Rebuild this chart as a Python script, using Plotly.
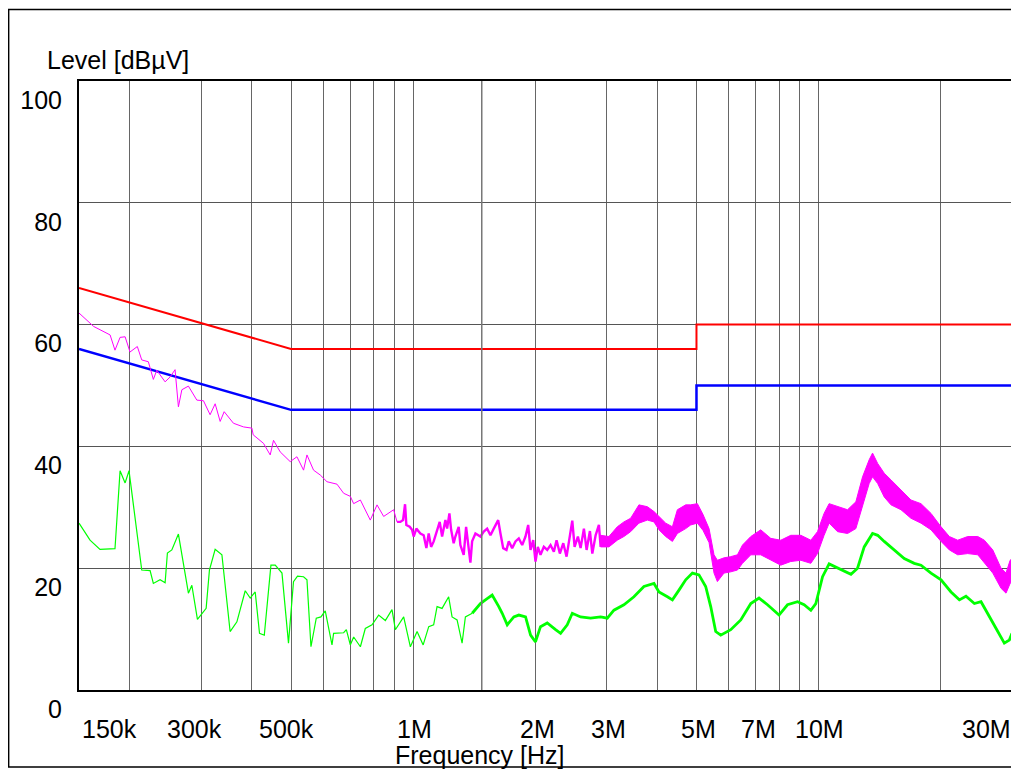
import numpy as np
import plotly.graph_objects as go

# ---------------- data (frequencies in MHz, levels in dBuV) ----------------
limit_f = [0.15, 0.5, 5.0, 5.0, 30.0]
limit_qp = [66, 56, 56, 60, 60]
limit_av = [56, 46, 46, 50, 50]

# peak trace, low-frequency part (thin line)
peak_lf_f = [0.150, 0.163, 0.179, 0.184, 0.1894, 0.1949, 0.2004, 0.2089, 0.2142, 0.2224,
             0.2288, 0.2333, 0.2446, 0.2516, 0.2588, 0.2638, 0.2690, 0.2792, 0.2929, 0.3041,
             0.3158, 0.3250, 0.3344, 0.3421, 0.3606, 0.3818, 0.4004, 0.4034, 0.4277, 0.4443,
             0.4527, 0.4702, 0.4977, 0.5171, 0.5369, 0.5474, 0.5683, 0.5903, 0.6133, 0.6491,
             0.6742, 0.7002, 0.7136, 0.7414, 0.7843, 0.8149, 0.8462, 0.8956, 0.9130]
peak_lf = [61.9, 59.7, 58.3, 55.8, 57.9, 58.0, 55.5, 56.4, 54.2, 53.9,
           51.0, 52.5, 50.6, 51.4, 52.6, 46.5, 49.3, 49.9, 47.6, 47.5,
           45.2, 47.0, 44.1, 45.7, 43.8, 43.2, 43.0, 41.9, 40.5, 38.6,
           41.0, 39.1, 37.5, 38.3, 36.1, 38.6, 36.1, 35.3, 34.2, 33.8,
           32.3, 31.8, 30.6, 31.2, 27.9, 30.4, 28.5, 29.6, 27.6]

# peak trace, 0.9 - 2.9 MHz (spiky line)
peak_mid_f = [0.9130, 0.9303, 0.9447, 0.9555, 0.9626, 0.9809, 0.9943, 1.0034, 1.0189, 1.0424,
              1.0621, 1.0785, 1.0928, 1.1078, 1.1243, 1.1417, 1.1633, 1.1793, 1.2016, 1.2133,
              1.2293, 1.2412, 1.2594, 1.2716, 1.2957, 1.3083, 1.3331, 1.3514, 1.3669, 1.3849,
              1.3984, 1.4249, 1.4660, 1.4938, 1.5230, 1.5519, 1.5813, 1.6214, 1.6427, 1.6681,
              1.6997, 1.7221, 1.7556, 1.7889, 1.8228, 1.8583, 1.8935, 1.9228, 1.9482, 1.9784,
              2.0044, 2.0308, 2.0622, 2.1013, 2.1423, 2.1830, 2.2243, 2.2588, 2.3016, 2.3465,
              2.3910, 2.4225, 2.4698, 2.5023, 2.5497, 2.5892, 2.6383, 2.6791, 2.7299, 2.7674,
              2.8198, 2.8731, 2.9011]
peak_mid = [27.6, 27.6, 27.9, 30.5, 27.1, 26.8, 26.3, 25.2, 26.5, 25.7,
            25.4, 23.3, 25.7, 23.5, 24.4, 26.0, 27.6, 25.2, 27.9, 26.5,
            29.0, 26.3, 24.1, 25.2, 26.8, 23.8, 22.2, 26.8, 24.1, 20.9,
            24.4, 25.7, 25.2, 26.0, 26.5, 25.4, 26.5, 27.9, 25.7, 23.3,
            23.0, 24.4, 23.3, 24.4, 24.9, 23.8, 25.2, 27.1, 23.0, 24.6,
            21.1, 23.5, 22.2, 23.5, 23.0, 23.8, 22.7, 24.6, 22.4, 24.1,
            21.9, 24.4, 27.8, 23.5, 25.2, 23.3, 26.5, 23.0, 26.1, 22.4,
            25.4, 27.1, 23.5]

# peak trace, 2.9 - 30 MHz (dense noise band: upper / lower envelope)
peak_band_f = [2.901, 3.041, 3.189, 3.311, 3.440, 3.606, 3.783, 3.928, 4.041, 4.198,
               4.361, 4.486, 4.703, 4.838, 5.026, 5.190, 5.370, 5.524, 5.630, 5.847,
               6.074, 6.310, 6.493, 6.807, 7.202, 7.624, 8.070, 8.542, 9.045, 9.572,
               9.940, 10.32, 10.62, 11.14, 11.79, 12.36, 12.84, 13.33, 13.59, 13.99,
               14.52, 15.09, 15.97, 16.90, 17.89, 18.94, 20.05, 21.02, 22.04, 23.33,
               24.70, 25.64, 26.90, 28.19, 29.00, 29.68, 30.0]
peak_hi = [25.4, 25.2, 26.8, 27.6, 28.2, 30.4, 30.1, 29.3, 28.5, 27.4,
           26.8, 29.6, 30.4, 30.4, 30.6, 28.8, 26.5, 22.2, 21.3, 21.7,
           21.9, 22.2, 23.8, 25.2, 26.3, 24.9, 24.6, 25.4, 25.4, 24.6,
           26.0, 29.0, 30.6, 30.1, 29.6, 30.9, 35.0, 37.8, 38.9, 37.2,
           35.6, 34.5, 32.8, 31.2, 30.6, 29.0, 26.8, 25.2, 24.6, 25.2,
           25.2, 24.6, 23.0, 20.0, 19.2, 21.3, 21.6]
peak_lo = [23.5, 23.5, 24.6, 25.2, 26.0, 27.4, 27.9, 27.6, 26.3, 25.2,
           24.4, 25.7, 26.5, 27.1, 27.4, 26.2, 24.2, 19.2, 17.8, 19.2,
           19.4, 19.7, 20.8, 22.2, 22.2, 21.3, 20.5, 21.1, 21.3, 20.8,
           22.4, 25.4, 27.4, 26.0, 25.7, 26.5, 30.1, 33.9, 35.0, 33.9,
           31.7, 30.4, 29.6, 28.2, 27.4, 26.3, 24.4, 23.0, 22.2, 22.4,
           22.2, 20.8, 19.2, 16.7, 15.9, 17.5, 17.8]

# average trace, low-frequency part
avg_lf_f = [0.150, 0.1597, 0.169, 0.184, 0.1894, 0.1949, 0.1993, 0.2142, 0.2246, 0.2288,
            0.2377, 0.2446, 0.2478, 0.2541, 0.2638, 0.2792, 0.2847, 0.2939, 0.3088, 0.3146,
            0.3250, 0.3377, 0.3538, 0.3677, 0.3855, 0.3966, 0.4080, 0.4181, 0.4296, 0.4461,
            0.4571, 0.4750, 0.4929, 0.5071, 0.5188, 0.5369, 0.5474, 0.5600, 0.5771, 0.5926,
            0.6073, 0.6249, 0.6310, 0.6368, 0.6742, 0.6846, 0.7002, 0.7136, 0.7414, 0.7624,
            0.7921, 0.8224, 0.8543, 0.8872, 0.9043, 0.9480, 0.9847, 1.023, 1.059, 1.093,
            1.124, 1.146, 1.179, 1.224, 1.248, 1.284, 1.321, 1.346, 1.399]
avg_lf = [27.4, 24.6, 23.1, 23.2, 36.0, 34.0, 36.0, 19.7, 19.6, 17.5,
          18.1, 17.6, 22.5, 23.0, 25.6, 15.9, 17.2, 11.6, 13.4, 19.7,
          23.1, 22.2, 9.6, 11.2, 16.3, 15.1, 16.1, 9.3, 9.0, 20.5,
          20.5, 19.2, 7.7, 17.8, 18.7, 18.6, 18.1, 7.1, 11.8, 12.0,
          13.0, 9.0, 7.4, 9.3, 9.4, 9.9, 7.4, 8.7, 7.1, 10.1,
          10.7, 12.3, 11.4, 13.2, 9.9, 12.0, 7.1, 9.6, 7.4, 10.4,
          10.7, 13.7, 13.4, 15.3, 12.0, 11.5, 7.7, 12.0, 12.6]

# average trace, high-frequency part (dense, drawn thicker)
avg_hf_f = [1.399, 1.466, 1.523, 1.567, 1.627, 1.659, 1.707, 1.772, 1.823, 1.894,
            1.949, 2.004, 2.062, 2.142, 2.246, 2.311, 2.400, 2.470, 2.589, 2.740,
            2.901, 3.013, 3.129, 3.311, 3.505, 3.710, 3.928, 4.041, 4.239, 4.361,
            4.527, 4.703, 4.886, 5.071, 5.268, 5.421, 5.577, 5.738, 6.074, 6.430,
            6.807, 7.132, 7.484, 7.991, 8.384, 8.875, 9.213, 9.572, 9.847, 10.23,
            10.62, 11.14, 12.02, 12.48, 12.96, 13.59, 13.99, 14.52, 15.37, 16.27,
            17.22, 17.89, 18.94, 20.05, 21.22, 22.25, 23.10, 24.23, 25.16, 26.15,
            27.41, 28.72, 29.55, 30.0]
avg_hf = [12.6, 14.2, 15.0, 15.6, 13.7, 12.6, 10.7, 12.0, 12.3, 12.0,
          9.0, 7.9, 10.4, 11.0, 9.9, 9.3, 10.7, 12.6, 12.0, 11.8,
          12.0, 11.8, 13.1, 14.0, 15.3, 17.0, 17.5, 16.1, 15.3, 14.8,
          16.4, 18.1, 19.2, 18.9, 17.0, 13.7, 9.6, 9.0, 9.9, 11.5,
          14.2, 15.1, 14.0, 12.3, 14.0, 14.5, 14.0, 13.1, 14.2, 18.6,
          20.7, 20.0, 19.0, 20.0, 23.5, 25.7, 25.4, 24.4, 23.0, 21.6,
          20.8, 20.5, 19.2, 18.1, 16.1, 14.8, 15.4, 14.2, 14.5, 12.6,
          10.1, 7.7, 8.2, 9.3]

# axis ticks / labels
x_grid = [0.2, 0.3, 0.4, 0.5, 0.6, 0.7, 0.8, 0.9, 1, 2, 3, 4, 5, 6, 7, 8, 9, 10, 20, 30]
x_label_vals = [0.15, 0.3, 0.5, 1, 2, 3, 5, 7, 10, 30]
x_label_text = ["150k", "300k", "500k", "1M", "2M", "3M", "5M", "7M", "10M", "30M"]
x_label_anchor = ["left", "center", "center", "center", "center", "center", "center", "center", "center", "right"]
x_label_shift = [1, -7, -5, 1, 2, 2, 2, 3, 1, 1]
y_ticks = [0, 20, 40, 60, 80, 100]

FONT = "Liberation Sans, Arial, sans-serif"
MAG = "#ff00ff"
GRN = "#00ff00"

fig = go.Figure()

fig.add_trace(go.Scatter(x=limit_f, y=limit_qp, mode="lines",
                         line=dict(color="#ff0000", width=2), showlegend=False))
fig.add_trace(go.Scatter(x=limit_f, y=limit_av, mode="lines",
                         line=dict(color="#0000ff", width=2.5), showlegend=False))

fig.add_trace(go.Scatter(x=peak_lf_f, y=peak_lf, mode="lines",
                         line=dict(color=MAG, width=1), showlegend=False))
fig.add_trace(go.Scatter(x=peak_mid_f, y=peak_mid, mode="lines",
                         line=dict(color=MAG, width=2.4), showlegend=False))
fig.add_trace(go.Scatter(x=peak_band_f, y=peak_lo, mode="lines",
                         line=dict(color=MAG, width=1), showlegend=False))
fig.add_trace(go.Scatter(x=peak_band_f, y=peak_hi, mode="lines", fill="tonexty",
                         fillcolor=MAG, line=dict(color=MAG, width=1), showlegend=False))

fig.add_trace(go.Scatter(x=avg_lf_f, y=avg_lf, mode="lines",
                         line=dict(color=GRN, width=1.2), showlegend=False))
fig.add_trace(go.Scatter(x=avg_hf_f, y=avg_hf, mode="lines",
                         line=dict(color=GRN, width=2.8), showlegend=False))

annotations = []
for v, t, a, s in zip(x_label_vals, x_label_text, x_label_anchor, x_label_shift):
    annotations.append(dict(x=np.log10(v), xref="x", y=0, yref="paper", text=t,
                            showarrow=False, xanchor=a, yanchor="middle",
                            xshift=s, yshift=-39,
                            font=dict(family=FONT, size=25, color="black")))
annotations.append(dict(x=0, xref="paper", y=1, yref="paper", text="Level [dBµV]",
                        showarrow=False, xanchor="left", yanchor="middle",
                        xshift=-34, yshift=21,
                        font=dict(family=FONT, size=25, color="black")))
annotations.append(dict(x=0.4298, xref="paper", y=0, yref="paper", text="Frequency [Hz]",
                        showarrow=False, xanchor="center", yanchor="middle",
                        yshift=-65,
                        font=dict(family=FONT, size=25, color="black")))

shapes = [
    # outer frame
    dict(type="rect", xref="paper", yref="paper", x0=-0.0754, x1=1.03, y0=-0.1264, y1=1.1175,
         line=dict(color="black", width=1.5), layer="below"),
    # right edge of plot (30 MHz grid line)
    dict(type="line", xref="x", yref="paper", x0=np.log10(30), x1=np.log10(30), y0=0, y1=1,
         line=dict(color="#777777", width=1.5)),
]

# the page places the figure 8 px from the window's top-left corner
fig.update_layout(
    width=1011, height=761, autosize=False,
    margin=dict(l=71, r=7, t=73, b=79),
    paper_bgcolor="white", plot_bgcolor="white",
    showlegend=False,
    annotations=annotations, shapes=shapes,
    xaxis=dict(type="log", range=[np.log10(0.15), np.log10(30)],
               tickvals=x_grid, showticklabels=False, ticks="",
               showgrid=True, gridcolor="#666666", gridwidth=1,
               showline=True, linecolor="black", linewidth=2, mirror=True,
               zeroline=False, fixedrange=True),
    yaxis=dict(range=[0, 100], tickvals=y_ticks, ticktext=[str(v) for v in y_ticks],
               ticks="", ticklabelshift=19, ticklabelstandoff=10,
               tickfont=dict(family=FONT, size=25, color="black"),
               showgrid=True, gridcolor="#555555", gridwidth=1,
               showline=True, linecolor="black", linewidth=2,
               zeroline=False, fixedrange=True),
)

fig.write_html("out.html")
